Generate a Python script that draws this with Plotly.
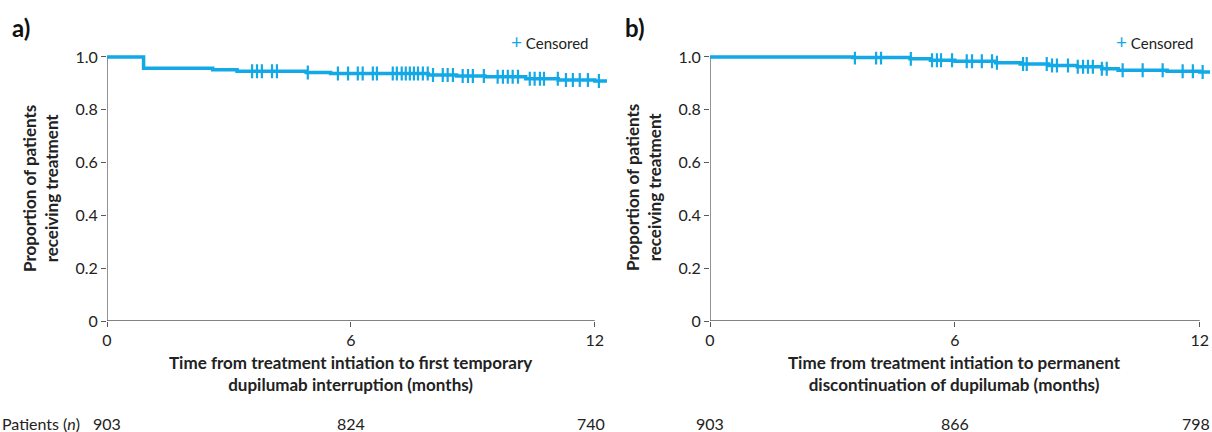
import numpy as np
import plotly.graph_objects as go

# ---- data ----
# Panel a: time to first temporary interruption
time_a = [0, 0.9, 2.6, 3.2, 4.9, 5.5, 7.9, 8.6, 9.3, 10.3, 11.1, 12.0, 12.3]
surv_a = [1.0, 0.957, 0.952, 0.946, 0.941, 0.937, 0.932, 0.928, 0.925, 0.918, 0.913, 0.909, 0.909]
cens_a = [3.57, 3.69, 3.81, 4.06, 4.18, 4.94, 5.68, 5.93, 6.17, 6.29, 6.54, 6.64,
          7.03, 7.13, 7.25, 7.35, 7.45, 7.55, 7.65, 7.77, 7.89, 8.02, 8.26, 8.38,
          8.51, 8.75, 8.88, 9.00, 9.27, 9.61, 9.74, 9.86, 9.98, 10.11, 10.40, 10.52,
          10.65, 10.75, 11.09, 11.29, 11.46, 11.63, 11.83, 12.1]
risk_a = [903, 824, 740]

# Panel b: time to permanent discontinuation
time_b = [0, 3.5, 4.9, 5.4, 6.0, 7.0, 7.6, 8.3, 9.0, 9.6, 10.0, 11.2, 12.0, 12.25]
surv_b = [1.0, 0.998, 0.993, 0.988, 0.984, 0.978, 0.973, 0.968, 0.963, 0.955, 0.950, 0.946, 0.943, 0.943]
cens_b = [3.55, 4.07, 4.19, 4.92, 5.44, 5.56, 5.66, 5.93, 6.29, 6.42, 6.66, 6.91,
          7.03, 7.67, 7.76, 8.25, 8.38, 8.50, 8.77, 9.01, 9.14, 9.26, 9.38, 9.60,
          9.72, 10.11, 10.60, 11.09, 11.58, 11.83, 12.07]
risk_b = [903, 866, 798]

risk_times = [0, 6, 12]
x_ticks = [0, 6, 12]
y_ticks = [0, 0.2, 0.4, 0.6, 0.8, 1.0]
y_ticklabels = ["0", "0.2", "0.4", "0.6", "0.8", "1.0"]

xtitle_a = "Time from treatment intiation to first temporary<br>dupilumab interruption (months)"
xtitle_b = "Time from treatment intiation to permanent<br>discontinuation of dupilumab (months)"
ytitle = "Proportion of patients<br>receiving treatment"

BLUE = "#12A9E6"
AXIS = "#595959"
FONT = "Lato"
TXT = "#222"


def step_at(times, surv, pts):
    idx = np.searchsorted(np.array(times), np.array(pts), side="right") - 1
    return [surv[i] for i in idx]


fig = go.Figure()

for t, s, c, xa, ya in [(time_a, surv_a, cens_a, "x", "y"),
                        (time_b, surv_b, cens_b, "x2", "y2")]:
    fig.add_trace(go.Scatter(x=t, y=s, mode="lines", line=dict(shape="hv", color=BLUE, width=3.5),
                             xaxis=xa, yaxis=ya, showlegend=False, hoverinfo="skip"))
    fig.add_trace(go.Scatter(x=c, y=step_at(t, s, c), mode="markers", name="Censored",
                             marker=dict(symbol="line-ns", size=10, line=dict(color=BLUE, width=2.2)),
                             xaxis=xa, yaxis=ya, showlegend=False))

ydom = [111 / 432, 380.3 / 432]
xdom_a = [107 / 1212, 607 / 1212]
xdom_b = [710 / 1212, 1210 / 1212]

xaxis_common = dict(range=[0, 12.3], tickvals=x_ticks, ticks="outside", ticklen=5, tickcolor=AXIS,
                    showline=False, showgrid=False, zeroline=False, automargin=False,
                    tickfont=dict(size=16, color=TXT))
yaxis_common = dict(range=[0, 1.02], tickvals=y_ticks, ticktext=y_ticklabels, ticks="outside",
                    ticklen=5, tickcolor=AXIS, showline=False, showgrid=False, zeroline=False,
                    automargin=False, tickfont=dict(size=16, color=TXT), domain=ydom)

fig.update_layout(
    width=1212, height=432,
    margin=dict(l=0, r=0, t=0, b=0, autoexpand=False),
    paper_bgcolor="white", plot_bgcolor="white",
    font=dict(family=FONT, color=TXT),
    xaxis=dict(xaxis_common, domain=xdom_a, anchor="y"),
    yaxis=dict(yaxis_common, anchor="x"),
    xaxis2=dict(xaxis_common, domain=xdom_b, anchor="y2", range=[0, 12.25]),
    yaxis2=dict(yaxis_common, anchor="x2"),
    showlegend=False,
)

# axis lines
for xr, yr in [("x", "y"), ("x2", "y2")]:
    fig.add_shape(type="line", xref=xr, yref=yr, x0=0, x1=12, y0=0, y1=0,
                  line=dict(color=AXIS, width=1.3), layer="below")
    fig.add_shape(type="line", xref=xr, yref=yr, x0=0, x1=0, y0=0, y1=1.0,
                  line=dict(color=AXIS, width=1.3), layer="below")

annotations = []
# panel letters
for xpix, lab in [(10, "a)"), (623, "b)")]:
    annotations.append(dict(text="<b>" + lab + "</b>", x=xpix / 1212, y=(432 - 27) / 432,
                            xref="paper", yref="paper", xanchor="left", yanchor="middle",
                            showarrow=False, font=dict(size=24, color="#111")))
# censored legends
for xpix in [591, 1196]:
    annotations.append(dict(text='<span style="color:%s;font-size:19px">+</span> Censored' % BLUE,
                            x=xpix / 1212, y=(432 - 41) / 432, xref="paper", yref="paper",
                            xanchor="right", yanchor="middle", showarrow=False,
                            font=dict(size=15, color=TXT)))
# y titles
for xpix in [40, 643]:
    annotations.append(dict(text="<b>" + ytitle + "</b>", x=xpix / 1212, y=(432 - 188) / 432,
                            xref="paper", yref="paper", textangle=-90, showarrow=False,
                            xanchor="center", yanchor="middle", font=dict(size=17, color=TXT)))
# x titles
for xr, title in [("x", xtitle_a), ("x2", xtitle_b)]:
    annotations.append(dict(text="<b>" + title + "</b>", x=6, y=(432 - 373) / 432, xref=xr, yref="paper",
                            showarrow=False, xanchor="center", yanchor="middle",
                            font=dict(size=17, color=TXT)))
# at-risk
annotations.append(dict(text="Patients (<i>n</i>)", x=0, y=(432 - 423) / 432, xref="paper", yref="paper",
                        showarrow=False, xanchor="left", yanchor="middle", font=dict(size=16, color=TXT)))
for xr, risk in [("x", risk_a), ("x2", risk_b)]:
    for t, n in zip(risk_times, risk):
        annotations.append(dict(text=str(n), x=t, y=(432 - 423) / 432, xref=xr, yref="paper",
                                showarrow=False, xanchor="center", yanchor="middle",
                                xshift=(-4 if t == 12 else 0),
                                font=dict(size=16, color=TXT)))
fig.update_layout(annotations=annotations)

fig.write_html("out.html", config={"displayModeBar": False},
               post_script="document.body.style.margin='0px';document.body.style.overflow='hidden';")
